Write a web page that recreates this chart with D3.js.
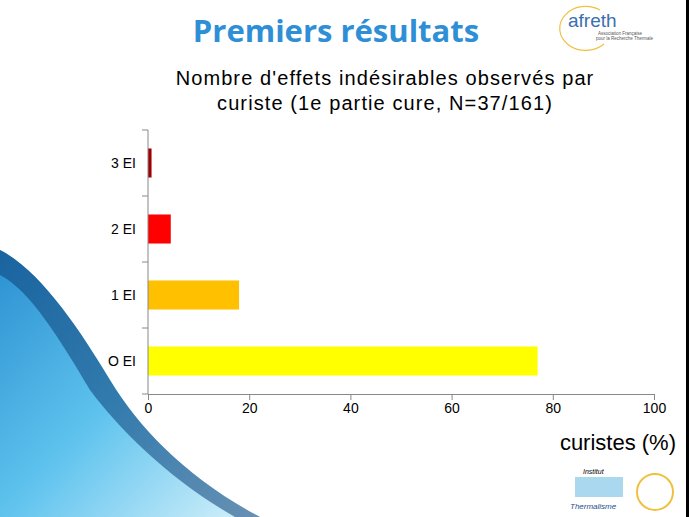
<!DOCTYPE html>
<html><head><meta charset="utf-8">
<script src="https://cdn.jsdelivr.net/npm/d3@7"></script>
<style>body{margin:0;background:#fff}svg{display:block}</style>
</head><body>
<svg id="chart" width="689" height="517"></svg>
<script>
// data
const categories = ['O EI', '1 EI', '2 EI', '3 EI']
const values = [77, 18, 4.5, 0.7]
const colors = ['#ffff00', '#ffc000', '#ff0000', '#a00000']
const ticks = [0, 20, 40, 60, 80, 100]

const svg = d3.select('#chart')

// watery background in the lower left
const defs = svg.append('defs')
const grad = defs.append('linearGradient').attr('id', 'water')
  .attr('x1', 0).attr('y1', 0).attr('x2', 1).attr('y2', 1)
grad.append('stop').attr('offset', '0%').attr('stop-color', '#2a8fd0')
grad.append('stop').attr('offset', '50%').attr('stop-color', '#5fc3ee')
grad.append('stop').attr('offset', '100%').attr('stop-color', '#d8f2fb')
svg.append('path')
  .attr('d', 'M0,250 C40,270 80,330 110,380 C140,430 190,480 260,517 L0,517 Z')
  .attr('fill', 'url(#water)')
svg.append('path')
  .attr('d', 'M0,250 C40,270 80,330 110,380 C140,430 190,480 260,517 L235,517 C170,480 120,430 90,390 C60,340 30,290 0,275 Z')
  .attr('fill', '#0c3f78').attr('opacity', 0.55)

svg.append('rect').attr('x', 686).attr('y', 0).attr('width', 3).attr('height', 517).attr('fill', '#000')

// title
svg.append('text').attr('x', 336).attr('y', 42).attr('text-anchor', 'middle')
  .attr('font-family', 'Open Sans, sans-serif').attr('font-weight', 'bold')
  .attr('font-size', 31).attr('fill', '#2e8fd6').text('Premiers résultats')

// afreth logo
svg.append('path').attr('d', 'M600,10 A26,22 0 1 0 604,44').attr('fill', 'none')
  .attr('stroke', '#f0c040').attr('stroke-width', 1.2)
svg.append('text').attr('x', 568).attr('y', 27).attr('font-family', 'Arial, sans-serif')
  .attr('font-size', 19).attr('fill', '#3a6fb0').text('afreth')
svg.append('text').attr('x', 598).attr('y', 35).attr('font-family', 'Arial, sans-serif')
  .attr('font-size', 4.5).attr('fill', '#555').text('Association Française')
svg.append('text').attr('x', 596).attr('y', 40).attr('font-family', 'Arial, sans-serif')
  .attr('font-size', 4.5).attr('fill', '#555').text('pour la Recherche Thermale')

// chart title
const ct = svg.append('text').attr('text-anchor', 'middle')
  .attr('font-family', 'Liberation Sans, Arial, sans-serif').attr('font-size', 20)
  .attr('letter-spacing', 1.1).attr('fill', '#000')
ct.append('tspan').attr('x', 385).attr('y', 85).text("Nombre d'effets indésirables observés par")
ct.append('tspan').attr('x', 385).attr('y', 110).text('curiste (1e partie cure, N=37/161)')

const margin = { left: 148, top: 130 }
const width = 654 - 148
const height = 394 - 130
const g = svg.append('g').attr('transform', 'translate(' + margin.left + ',' + margin.top + ')')

const x = d3.scaleLinear().domain([0, 100]).range([0, width])
const y = d3.scaleBand().domain(categories.slice().reverse()).range([0, height]).paddingInner(0.56).paddingOuter(0.28)

g.selectAll('.bar').data(categories).enter().append('rect')
  .attr('class', 'bar')
  .attr('x', 0)
  .attr('y', d => y(d))
  .attr('width', (d, i) => x(values[i]))
  .attr('height', y.bandwidth())
  .attr('fill', (d, i) => colors[i])

const xAxis = g.append('g').attr('transform', 'translate(0,' + height + ')')
  .call(d3.axisBottom(x).tickValues(ticks).tickSize(6).tickPadding(3))
xAxis.selectAll('text').attr('font-size', 14).attr('font-family', 'Liberation Sans, Arial, sans-serif')

// y axis with ticks between categories
const yAxis = g.append('g')
yAxis.append('line').attr('x1', 0).attr('x2', 0).attr('y1', 0).attr('y2', height).attr('stroke', '#888')
yAxis.selectAll('.tk').data(d3.range(categories.length + 1)).enter().append('line')
  .attr('x1', -6).attr('x2', 0)
  .attr('y1', i => i * height / categories.length).attr('y2', i => i * height / categories.length)
  .attr('stroke', '#888')
yAxis.selectAll('.lab').data(categories).enter().append('text')
  .attr('x', -12).attr('y', d => y(d) + y.bandwidth() / 2).attr('dy', '0.35em')
  .attr('text-anchor', 'end').attr('font-size', 14)
  .attr('font-family', 'Liberation Sans, Arial, sans-serif').text(d => d)
xAxis.selectAll('path, line').attr('stroke', '#888')

svg.append('text').attr('x', 676).attr('y', 450).attr('text-anchor', 'end')
  .attr('font-family', 'Liberation Sans, Arial, sans-serif').attr('font-size', 22).text('curistes (%)')

// bottom right logos
svg.append('text').attr('x', 583).attr('y', 474).attr('font-family', 'Arial').attr('font-style', 'italic')
  .attr('font-size', 7).text('Institut')
svg.append('rect').attr('x', 575).attr('y', 477).attr('width', 48).attr('height', 20).attr('fill', '#a9d8ef')
svg.append('text').attr('x', 570).attr('y', 509).attr('font-family', 'Arial').attr('font-style', 'italic')
  .attr('font-size', 8).attr('fill', '#1d4f8c').text('Thermalisme')
svg.append('circle').attr('cx', 655).attr('cy', 492).attr('r', 18).attr('fill', 'none')
  .attr('stroke', '#f0c040').attr('stroke-width', 2)
</script>
</body></html>
